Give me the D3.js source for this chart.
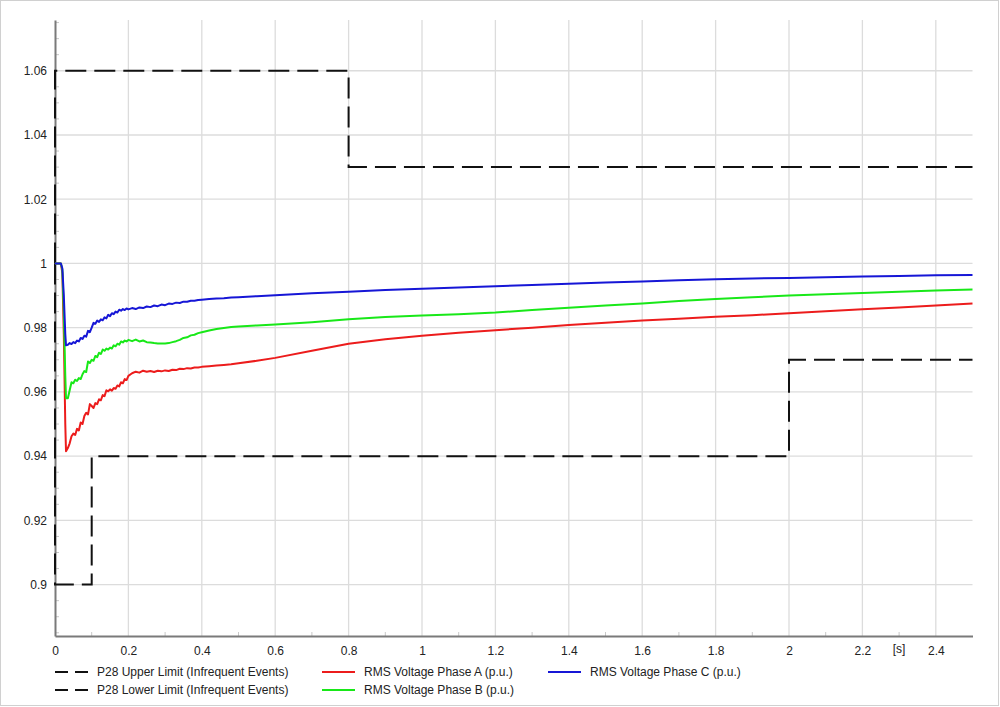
<!DOCTYPE html>
<html>
<head>
<meta charset="utf-8">
<script src="https://cdn.jsdelivr.net/npm/d3@7"></script>
<style>
  body { margin: 0; background: #fff; }
  svg text { font-family: "Liberation Sans", Arial, sans-serif; fill: #222; }
</style>
</head>
<body>
<svg id="chart" width="1000" height="707"></svg>
<script>
// sample times [s], shared by the three RMS traces
var times = [0, 0.016, 0.02, 0.024, 0.028, 0.03, 0.035, 0.04, 0.045, 0.05, 0.055, 0.06, 0.065, 0.07, 0.075,
  0.08, 0.085, 0.09, 0.095, 0.1, 0.105, 0.11, 0.115, 0.12, 0.125, 0.13, 0.135, 0.14, 0.145, 0.15, 0.155,
  0.16, 0.165, 0.17, 0.175, 0.18, 0.185, 0.19, 0.195, 0.2, 0.21, 0.22, 0.23, 0.24, 0.25, 0.26, 0.27, 0.28,
  0.29, 0.3, 0.31, 0.32, 0.33, 0.34, 0.35, 0.36, 0.37, 0.38, 0.39, 0.4, 0.42, 0.44, 0.46, 0.48, 0.5, 0.55,
  0.6, 0.7, 0.8, 0.9, 1.0, 1.1, 1.2, 1.3, 1.4, 1.5, 1.6, 1.7, 1.8, 1.9, 2.0, 2.1, 2.2, 2.3, 2.4, 2.5];

var phaseA = [1.0, 1.0, 0.997, 0.978, 0.950, 0.9415, 0.9425, 0.9440, 0.9462, 0.9470, 0.9466, 0.9485, 0.9480,
  0.9505, 0.9500, 0.9525, 0.9535, 0.9530, 0.9562, 0.9556, 0.9550, 0.9565, 0.9562, 0.9577, 0.9574, 0.9590,
  0.9587, 0.9605, 0.9602, 0.9608, 0.9604, 0.9612, 0.9610, 0.9620, 0.9617, 0.9630, 0.9627, 0.9640, 0.9637,
  0.9650, 0.9658, 0.9663, 0.9660, 0.9666, 0.9663, 0.9665, 0.9662, 0.9666, 0.9664, 0.9667, 0.9665, 0.9669,
  0.9668, 0.9672, 0.9671, 0.9674, 0.9673, 0.9676, 0.9676, 0.9678, 0.9680, 0.9682, 0.9684, 0.9686, 0.9689,
  0.9697, 0.9706, 0.9728, 0.9750, 0.9764, 0.9775, 0.9784, 0.9792, 0.9800, 0.9808, 0.9815, 0.9822, 0.9828,
  0.9834, 0.9839, 0.9845, 0.9851, 0.9857, 0.9863, 0.9869, 0.98755];

var phaseB = [1.0, 1.0, 0.998, 0.985, 0.965, 0.958, 0.9580, 0.9605, 0.9630, 0.9627, 0.9638, 0.9634, 0.9643,
  0.9640, 0.9655, 0.9665, 0.9662, 0.9695, 0.9690, 0.9700, 0.9697, 0.9712, 0.9708, 0.9722, 0.9718, 0.9732,
  0.9728, 0.9735, 0.9732, 0.9738, 0.9735, 0.9745, 0.9742, 0.9750, 0.9747, 0.9757, 0.9754, 0.9760, 0.9757,
  0.9762, 0.9758, 0.9763, 0.9757, 0.9760, 0.9755, 0.9754, 0.9752, 0.9751, 0.9751, 0.9751, 0.9752, 0.9755,
  0.9758, 0.9762, 0.9768, 0.9770, 0.9776, 0.9778, 0.9783, 0.9786, 0.9791, 0.9796, 0.9799, 0.9802, 0.9804,
  0.9807, 0.9810, 0.9817, 0.9826, 0.9833, 0.9838, 0.9842, 0.9847, 0.9855, 0.9862, 0.9869, 0.9875, 0.9883,
  0.9889, 0.9895, 0.9900, 0.9904, 0.9908, 0.9912, 0.9916, 0.9919];

var phaseC = [1.0, 1.0, 0.9985, 0.990, 0.978, 0.9745, 0.9747, 0.9752, 0.9749, 0.9755, 0.9752, 0.9760, 0.9757,
  0.9768, 0.9765, 0.9775, 0.9772, 0.9790, 0.9786, 0.9800, 0.9815, 0.9812, 0.9822, 0.9818, 0.9826, 0.9823,
  0.9832, 0.9829, 0.9840, 0.9836, 0.9845, 0.9842, 0.9850, 0.9847, 0.9856, 0.9853, 0.9858, 0.9855, 0.9860,
  0.9857, 0.9861, 0.9858, 0.9863, 0.9861, 0.9866, 0.9864, 0.9869, 0.9867, 0.9872, 0.9870, 0.9875, 0.9874,
  0.9878, 0.9877, 0.9881, 0.9881, 0.9884, 0.9884, 0.9886, 0.9887, 0.9889, 0.9891, 0.9892, 0.9894, 0.9895,
  0.9898, 0.9901, 0.9907, 0.9912, 0.9917, 0.9921, 0.9925, 0.9929, 0.9933, 0.9937, 0.9941, 0.9944, 0.9948,
  0.9951, 0.9953, 0.9955, 0.9957, 0.9959, 0.9961, 0.9963, 0.9964];

// P28 limit step curves (time, value)
var upperT = [0, 0, 0.8, 0.8, 2.5];
var upperV = [1.0, 1.06, 1.06, 1.03, 1.03];
var lowerT = [0, 0, 0.1, 0.1, 2.0, 2.0, 2.5];
var lowerV = [1.0, 0.9, 0.9, 0.94, 0.94, 0.97, 0.97];

var xTicks = [0, 0.2, 0.4, 0.6, 0.8, 1, 1.2, 1.4, 1.6, 1.8, 2, 2.2, 2.4];
var yTicks = [0.9, 0.92, 0.94, 0.96, 0.98, 1, 1.02, 1.04, 1.06];

var seriesNames = ["P28 Upper Limit (Infrequent Events)", "P28 Lower Limit (Infrequent Events)",
  "RMS Voltage Phase A (p.u.)", "RMS Voltage Phase B (p.u.)", "RMS Voltage Phase C (p.u.)"];

var colA = "#ec1c1c", colB = "#18e818", colC = "#1616d6";

var svg = d3.select("#chart");

// outer frame
svg.append("rect")
  .attr("x", 0.5).attr("y", 0.5).attr("width", 998).attr("height", 705)
  .attr("fill", "none").attr("stroke", "#d0d0d0");

var x = d3.scaleLinear().domain([0, 2.5]).range([55, 972.5]);
var y = d3.scaleLinear().domain([0.884, 1.0758]).range([636, 20]);

// grid
var grid = svg.append("g");
grid.selectAll(".vg").data(xTicks.filter(function(d) { return d > 0; }))
  .enter().append("line")
  .attr("x1", function(d) { return x(d); }).attr("x2", function(d) { return x(d); })
  .attr("y1", y.range()[1]).attr("y2", y.range()[0])
  .attr("stroke", "#dcdcdc").attr("stroke-width", 1.3);
grid.selectAll(".hg").data(yTicks)
  .enter().append("line")
  .attr("x1", x.range()[0]).attr("x2", x.range()[1])
  .attr("y1", function(d) { return y(d); }).attr("y2", function(d) { return y(d); })
  .attr("stroke", "#dcdcdc").attr("stroke-width", 1.3);

// minor ticks inside the plot
var xMinor = d3.range(1, 25, 2).map(function(i) { return i / 10; });
grid.selectAll(".xm").data(xMinor).enter().append("line")
  .attr("x1", function(d) { return x(d); }).attr("x2", function(d) { return x(d); })
  .attr("y1", y.range()[0]).attr("y2", y.range()[0] - 4)
  .attr("stroke", "#c8c8c8");
var yMinor = d3.range(177, 216).map(function(i) { return i * 0.005; })
  .filter(function(d) { return Math.round(d * 1000) % 20 !== 0; });
grid.selectAll(".ym").data(yMinor).enter().append("line")
  .attr("x1", x.range()[0]).attr("x2", x.range()[0] + 4)
  .attr("y1", function(d) { return y(d); }).attr("y2", function(d) { return y(d); })
  .attr("stroke", "#c8c8c8");

// axes
var xAxis = d3.axisBottom(x).tickValues(xTicks).tickSize(0).tickPadding(10)
  .tickFormat(function(d) { return String(d); });
var gx = svg.append("g").attr("transform", "translate(0," + y.range()[0] + ")").call(xAxis);
var yAxis = d3.axisLeft(y).tickValues(yTicks).tickSize(0).tickPadding(8)
  .tickFormat(function(d) { return String(+d.toFixed(2)); });
var gy = svg.append("g").attr("transform", "translate(" + x.range()[0] + ",0)").call(yAxis);
[gx, gy].forEach(function(g) {
  g.select(".domain").attr("stroke", "#7a7a7a").attr("stroke-width", 2);
  g.selectAll("text").attr("font-size", 12).attr("fill", "#222")
    .attr("font-family", "'Liberation Sans', Arial, sans-serif");
});
svg.append("text").attr("x", x(2.3)).attr("y", y.range()[0] + 17)
  .attr("text-anchor", "middle").attr("font-size", 12).text("[s]");

var line = d3.line()
  .x(function(d) { return x(d[0]); })
  .y(function(d) { return y(d[1]); });

function zipXY(ts, vs) { return ts.map(function(t, i) { return [t, vs[i]]; }); }

// limit lines
[[upperT, upperV], [lowerT, lowerV]].forEach(function(p) {
  svg.append("path").datum(zipXY(p[0], p[1]))
    .attr("d", line).attr("fill", "none")
    .attr("stroke", "#111").attr("stroke-width", 2)
    .attr("stroke-dasharray", "21,8");
});

// RMS traces
[[phaseA, colA], [phaseB, colB], [phaseC, colC]].forEach(function(p) {
  svg.append("path").datum(zipXY(times, p[0]))
    .attr("d", line).attr("fill", "none")
    .attr("stroke", p[1]).attr("stroke-width", 2)
    .attr("stroke-linejoin", "round");
});

// legend
var legendPos = [[55, 672], [55, 690], [322, 672], [322, 690], [548, 672]];
var legendStyle = [["#111", "13,7"], ["#111", "13,7"], [colA, null], [colB, null], [colC, null]];
var leg = svg.append("g");
seriesNames.forEach(function(name, i) {
  var p = legendPos[i];
  leg.append("line")
    .attr("x1", p[0]).attr("x2", p[0] + 33).attr("y1", p[1]).attr("y2", p[1])
    .attr("stroke", legendStyle[i][0]).attr("stroke-width", 2)
    .attr("stroke-dasharray", legendStyle[i][1]);
  leg.append("text").attr("x", p[0] + 42).attr("y", p[1] + 4)
    .attr("font-size", 12).text(name);
});
</script>
</body>
</html>
